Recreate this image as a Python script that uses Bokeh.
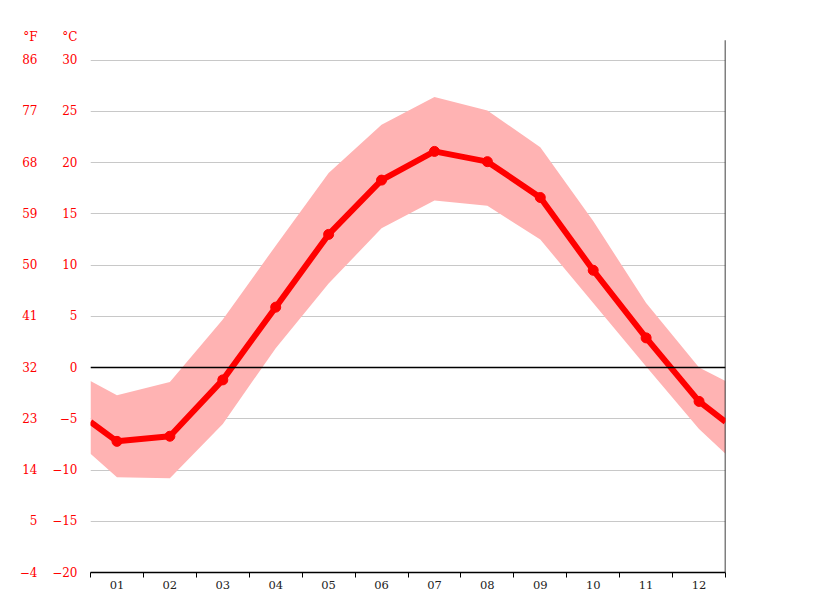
from bokeh.plotting import figure
from bokeh.models import ColumnDataSource, FixedTicker, LinearAxis, Range1d, Span
from bokeh.embed import file_html
from bokeh.resources import INLINE

month_labels = ["01", "02", "03", "04", "05", "06", "07", "08", "09", "10", "11", "12"]
months = [1, 2, 3, 4, 5, 6, 7, 8, 9, 10, 11, 12]
temp_mean = [-7.2, -6.7, -1.2, 5.9, 13.0, 18.3, 21.1, 20.1, 16.6, 9.5, 2.9, -3.3]
temp_max = [-2.7, -1.4, 4.7, 11.9, 19.0, 23.7, 26.4, 25.1, 21.5, 14.3, 6.3, 0.0]
temp_min = [-10.7, -10.8, -5.5, 1.9, 8.2, 13.6, 16.3, 15.8, 12.5, 6.3, 0.1, -6.0]
# values read at the left/right edge of the chart (year boundary)
edge_mean = -5.3
edge_max = -1.3
edge_min = -8.4

celsius_ticks = [-20, -15, -10, -5, 0, 5, 10, 15, 20, 25, 30]
fahrenheit_ticks = [-4, 5, 14, 23, 32, 41, 50, 59, 68, 77, 86]

FONT = "DejaVu Serif"
RED = "#ff0000"
PINK = "#ffb3b3"

Y_MIN, Y_TOP, Y_MAX = -20, 31.95, 33
UNIT_ROW = 32.3  # where the unit captions sit, above the plotted area


def to_f(c):
    return c * 9 / 5 + 32


x_edge = [0.5] + months + [12.5]
band = ColumnDataSource(dict(
    x=x_edge,
    lo=[edge_min] + temp_min + [edge_min],
    hi=[edge_max] + temp_max + [edge_max],
))
line_src = ColumnDataSource(dict(x=x_edge, y=[edge_mean] + temp_mean + [edge_mean]))
pts = ColumnDataSource(dict(x=months, y=temp_mean))

p = figure(
    width=815, height=611,
    x_range=Range1d(0.5, 12.5), y_range=Range1d(Y_MIN, Y_MAX),
    output_backend="svg", toolbar_location=None, tools="",
    min_border_left=90, min_border_top=29, min_border_right=90, min_border_bottom=39,
    y_axis_location=None, x_axis_location=None,
)
p.outline_line_color = None
p.background_fill_color = "white"
p.border_fill_color = "white"

p.varea(x="x", y1="lo", y2="hi", source=band, fill_color=PINK)

p.xgrid.visible = False
p.ygrid.ticker = FixedTicker(ticks=celsius_ticks)
p.ygrid.grid_line_color = "#c8c8c8"
p.ygrid.grid_line_width = 1

p.add_layout(Span(location=0, dimension="width", line_color="black", line_width=1.5))
# right border of the chart area
p.segment(x0=[12.5], y0=[Y_MIN], x1=[12.5], y1=[Y_TOP], line_color="black", line_width=1.5)

p.line(x="x", y="y", source=line_src, line_color=RED, line_width=6)
p.scatter(x="x", y="y", source=pts, size=10, fill_color=RED, line_color=RED)

# x axis
xax = LinearAxis(
    ticker=FixedTicker(ticks=months, minor_ticks=[m - 0.5 for m in months] + [12.5]),
    major_label_overrides={m: lab for m, lab in zip(months, month_labels)},
)
xax.axis_line_color = "black"
xax.axis_line_width = 1.5
xax.major_tick_out = 0
xax.major_tick_in = 0
xax.minor_tick_out = 5
xax.minor_tick_in = 0
xax.minor_tick_line_color = "black"
xax.major_label_text_font = FONT
xax.major_label_text_font_size = "11.5px"
xax.major_label_text_color = "#222222"
xax.major_label_standoff = 3
p.add_layout(xax, "below")

# celsius axis
cax = LinearAxis(ticker=FixedTicker(ticks=celsius_ticks + [UNIT_ROW]),
                 major_label_overrides={UNIT_ROW: "°C"})
cax.axis_line_color = None
cax.major_tick_out = 0
cax.major_tick_in = 0
cax.minor_tick_out = 0
cax.minor_tick_in = 0
cax.major_label_text_font = FONT
cax.major_label_text_font_size = "12px"
cax.major_label_text_color = RED
cax.major_label_standoff = 13
p.add_layout(cax, "left")

# fahrenheit axis
f_unit = to_f(UNIT_ROW)
p.extra_y_ranges = {"f": Range1d(to_f(Y_MIN), to_f(Y_MAX))}
fax = LinearAxis(y_range_name="f", ticker=FixedTicker(ticks=fahrenheit_ticks + [f_unit]),
                 major_label_overrides={f_unit: "°F"})
fax.axis_line_color = None
fax.major_tick_out = 0
fax.major_tick_in = 0
fax.minor_tick_out = 0
fax.minor_tick_in = 0
fax.major_label_text_font = FONT
fax.major_label_text_font_size = "12px"
fax.major_label_text_color = RED
fax.major_label_standoff = 12
p.add_layout(fax, "left")

open("out.html", "w").write(file_html(p, INLINE))
